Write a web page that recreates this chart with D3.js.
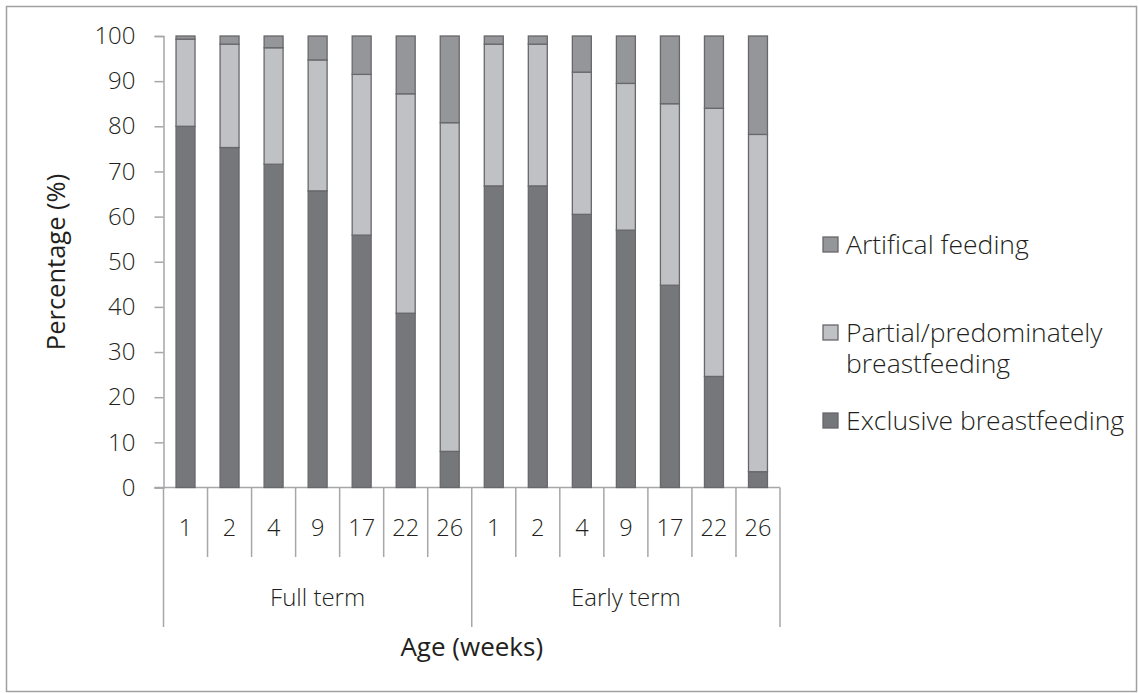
<!DOCTYPE html>
<html>
<head>
<meta charset="utf-8">
<script src="https://cdn.jsdelivr.net/npm/d3@7"></script>
<style>
  html, body { margin: 0; padding: 0; background: #fff; }
  svg { display: block; }
  text { font-family: "Open Sans", "Noto Sans", sans-serif; font-weight: 300; fill: #231f20; }
</style>
</head>
<body>
<svg id="chart" width="1139" height="693"></svg>
<script>
// Feeding status by age (weeks), full term vs early term infants
const groups = ["Full term", "Early term"];
const ages = ["1", "2", "4", "9", "17", "22", "26"];
const seriesNames = ["Exclusive breastfeeding", "Partial/predominately breastfeeding", "Artifical feeding"];

// Percentages, ordered Full term weeks then Early term weeks
const exclusive  = [80.0, 75.3, 71.6, 65.7, 55.9, 38.6, 8.0,   66.8, 66.8, 60.5, 57.0, 44.8, 24.6, 3.5];
const partial    = [19.3, 22.9, 25.8, 29.0, 35.6, 48.6, 72.8,  31.4, 31.4, 31.5, 32.5, 40.2, 59.4, 74.7];
const artificial = [0.7,  1.8,  2.6,  5.3,  8.5,  12.8, 19.2,  1.8,  1.8,  8.0,  10.5, 15.0, 16.0, 21.8];

const yTicks = [0, 10, 20, 30, 40, 50, 60, 70, 80, 90, 100];

const colors = {
  "Exclusive breastfeeding": "#76777b",
  "Partial/predominately breastfeeding": "#c0c1c5",
  "Artifical feeding": "#959699"
};
const axisColor = "#a7a7aa";
const barStroke = "#68686b";

const rows = [];
groups.forEach((g, gi) => ages.forEach((a, ai) => {
  const i = gi * ages.length + ai;
  rows.push({
    key: g + "|" + a, group: g, age: a,
    "Exclusive breastfeeding": exclusive[i],
    "Partial/predominately breastfeeding": partial[i],
    "Artifical feeding": artificial[i]
  });
}));

const svg = d3.select("#chart");

// outer frame
svg.append("rect")
  .attr("x", 6.5).attr("y", 6.5).attr("width", 1130).attr("height", 685)
  .attr("fill", "none").attr("stroke", "#a0a0a2").attr("stroke-width", 1.5);

const plotLeft = 163.5, plotRight = 780, plotTop = 36, plotBottom = 487.5;

const x = d3.scaleBand().domain(rows.map(d => d.key)).range([plotLeft, plotRight])
  .paddingInner(0.569).paddingOuter(0.2845);
const y = d3.scaleLinear().domain([0, 100]).range([plotBottom, plotTop]);

// y axis
const yAxis = d3.axisLeft(y).tickValues(yTicks).tickSize(9).tickPadding(19);
const gy = svg.append("g").attr("transform", `translate(${plotLeft},0)`).call(yAxis);
gy.attr("font-family", null).attr("font-size", null);
gy.select(".domain").attr("stroke", axisColor).attr("stroke-width", 1.5);
gy.selectAll(".tick line").attr("stroke", axisColor).attr("stroke-width", 1.5);
gy.selectAll(".tick text").attr("font-size", 24).attr("fill", "#231f20");

// baseline
svg.append("line").attr("x1", plotLeft - 9).attr("x2", plotRight).attr("y1", plotBottom).attr("y2", plotBottom)
  .attr("stroke", axisColor).attr("stroke-width", 1.5);

// stacked bars
const stack = d3.stack().keys(seriesNames);
const layers = stack(rows);
svg.append("g").selectAll("g").data(layers).join("g")
  .attr("fill", d => colors[d.key])
  .selectAll("rect").data(d => d).join("rect")
  .attr("x", d => x(d.data.key))
  .attr("width", x.bandwidth())
  .attr("y", d => y(d[1]))
  .attr("height", d => y(d[0]) - y(d[1]))
  .attr("stroke", barStroke).attr("stroke-width", 1.3);

// category separators and labels
const boundaries = d3.range(rows.length + 1).map(i => plotLeft + i * (plotRight - plotLeft) / rows.length);
boundaries.forEach((bx, i) => {
  const isGroupEdge = i % ages.length === 0;
  svg.append("line").attr("x1", bx).attr("x2", bx)
    .attr("y1", plotBottom).attr("y2", isGroupEdge ? 627 : 557)
    .attr("stroke", axisColor).attr("stroke-width", 1.5);
});
svg.append("g").selectAll("text").data(rows).join("text")
  .attr("x", d => x(d.key) + x.bandwidth() / 2)
  .attr("y", 536)
  .attr("text-anchor", "middle").attr("font-size", 23.5)
  .text(d => d.age);

groups.forEach((g) => {
  const gRows = rows.filter(r => r.group === g);
  const x0 = x(gRows[0].key), x1 = x(gRows[gRows.length - 1].key) + x.bandwidth();
  svg.append("text").attr("x", (x0 + x1) / 2).attr("y", 606)
    .attr("text-anchor", "middle").attr("font-size", 24).text(g);
});

// axis titles
svg.append("text").attr("x", (plotLeft + plotRight) / 2).attr("y", 656)
  .attr("text-anchor", "middle").attr("font-size", 26).style("font-weight", 400).text("Age (weeks)");
svg.append("text").attr("transform", `translate(65,262) rotate(-90)`)
  .attr("text-anchor", "middle").attr("font-size", 25.5).style("font-weight", 400).text("Percentage (%)");

// legend (two-line label uses a single text with tspans)
const legendItems = [
  { name: "Artifical feeding", lines: ["Artifical feeding"], cy: 245 },
  { name: "Partial/predominately breastfeeding", lines: ["Partial/predominately", "breastfeeding"], cy: 333 },
  { name: "Exclusive breastfeeding", lines: ["Exclusive breastfeeding"], cy: 421 }
];
const lg = svg.append("g");
legendItems.forEach(it => {
  lg.append("rect").attr("x", 823).attr("y", it.cy - 8).attr("width", 15).attr("height", 15)
    .attr("fill", colors[it.name]).attr("stroke", barStroke).attr("stroke-width", 1.3);
  const t = lg.append("text").attr("x", 846).attr("y", it.cy + 9).attr("font-size", 26.5);
  it.lines.forEach((ln, li) => {
    t.append("tspan").attr("x", 846).attr("dy", li === 0 ? 0 : 31).text(ln);
  });
});
</script>
</body>
</html>
